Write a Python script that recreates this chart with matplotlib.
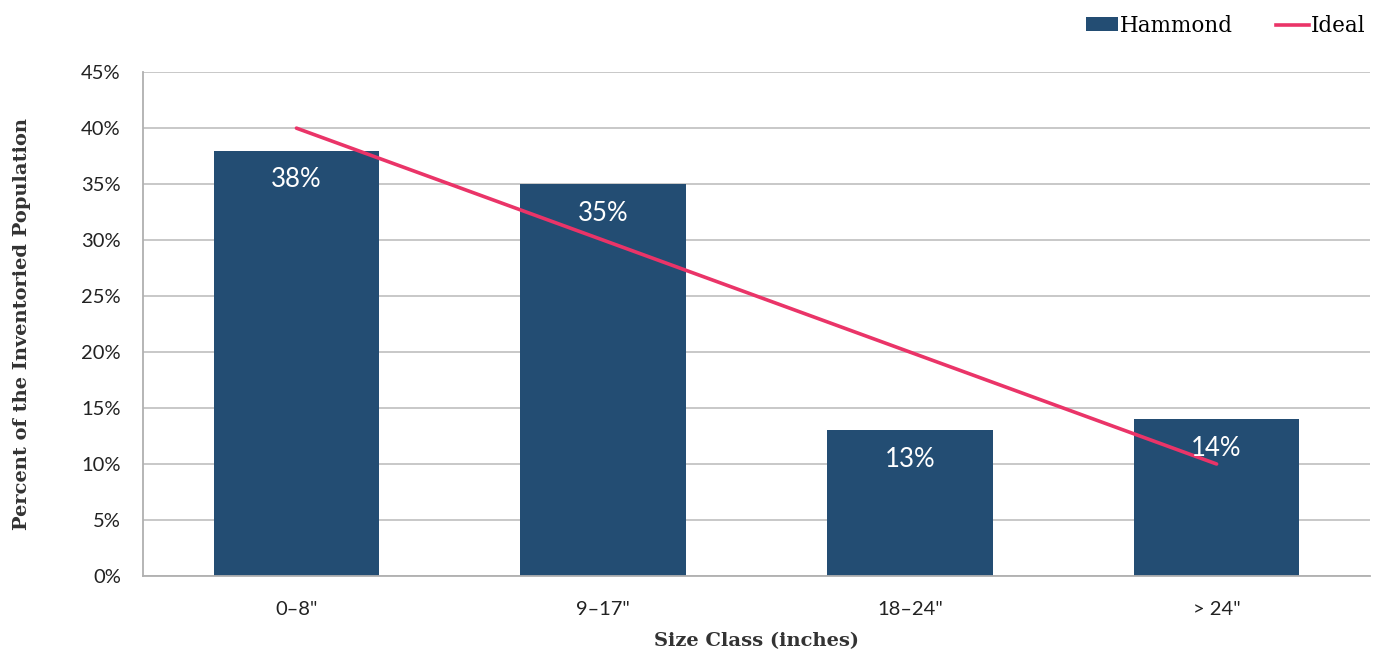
import numpy as np
import matplotlib.pyplot as plt
from matplotlib.patches import Patch
from matplotlib.lines import Line2D

categories = ['0\u20138"', '9\u201317"', '18\u201324"', '> 24"']
hammond = [38, 35, 13, 14]
ideal = [40, 30, 20, 10]
yticks = [0, 5, 10, 15, 20, 25, 30, 35, 40, 45]

bar_color = '#234d73'
line_color = '#ea3468'
grid_color = '#c4c4c4'
serif = ['DejaVu Serif']
sans = ['Lato', 'DejaVu Sans']

fig = plt.figure(figsize=(13.89, 6.56), dpi=100)
ax = fig.add_axes([0.103, 0.122, 0.8833, 0.768])

x = np.arange(len(categories))
ax.bar(x, hammond, width=0.54, color=bar_color, zorder=2)
ax.plot(x, ideal, color=line_color, lw=2.6, zorder=3, solid_capstyle='round')

for xi, v in zip(x, hammond):
    ax.text(xi, v - 2.6, f'{v}%', ha='center', va='center', color='white',
            fontsize=18.5, family=sans, zorder=4)

ax.set_xlim(-0.5, 3.5)
ax.set_ylim(0, 45)
ax.set_yticks(yticks)
ax.set_yticklabels([f'{t}%' for t in yticks], family=sans, fontsize=14.5, color='#222222')
ax.set_xticks(x)
ax.set_xticklabels(categories, family=sans, fontsize=14.5, color='#222222')
ax.tick_params(length=0)
ax.tick_params(axis='y', pad=16)
ax.tick_params(axis='x', pad=18)

ax.yaxis.grid(True, color=grid_color, lw=1.3, zorder=0)
ax.set_axisbelow(True)
for s in ['top', 'right']:
    ax.spines[s].set_visible(False)
for s in ['left', 'bottom']:
    ax.spines[s].set_color('#b0b0b0')
    ax.spines[s].set_linewidth(1.3)

ax.set_xlabel('Size Class (inches)', family=serif, fontsize=14, fontweight='bold',
              color='#333333', labelpad=10)
ax.set_ylabel('Percent of the Inventoried Population', family=serif, fontsize=14,
              fontweight='bold', color='#333333')
ax.yaxis.set_label_coords(-0.091, 0.5)

handles = [Patch(facecolor=bar_color, label='Hammond'),
           Line2D([0], [0], color=line_color, lw=2.6, label='Ideal')]
fig.legend(handles=handles, loc='upper right', bbox_to_anchor=(0.997, 1.007), ncol=2,
           frameon=False, prop={'family': serif, 'size': 15.5}, handlelength=1.5,
           handletextpad=0.1, columnspacing=2.0, handleheight=0.6)

fig.savefig('out.png', dpi=100, facecolor='white')
